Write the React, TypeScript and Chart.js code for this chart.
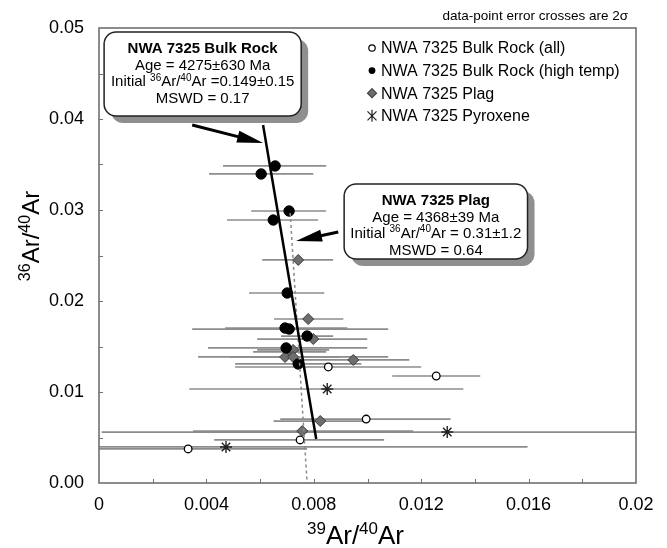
import React, { useEffect, useRef } from 'react';
import { Chart, registerables } from 'chart.js';

Chart.register(...registerables);

const FONT = '"Liberation Sans", Arial, Helvetica, sans-serif';

// ---- axis ticks ----
const xTicks = [0, 0.004, 0.008, 0.012, 0.016, 0.02];
const yTicks = [0, 0.01, 0.02, 0.03, 0.04, 0.05];
const xMinorStep = 0.002;
const yMinorStep = 0.005;

// ---- NWA 7325 Bulk Rock (all) : open circles ----
const allX = [0.00854, 0.01256, 0.00995, 0.00749, 0.00332];
const allY = [0.01275, 0.01176, 0.00703, 0.00473, 0.00374];
const allLo = [0.00507, 0.01092, 0.00675, 0.00429, -0.00112];
const allHi = [0.012, 0.0142, 0.01309, 0.01062, 0.00775];

// ---- NWA 7325 Bulk Rock (high temp) : filled circles ----
const htX = [0.00656, 0.00604, 0.00708, 0.00649, 0.00701, 0.00693, 0.00708, 0.00775, 0.00697, 0.00742];
const htY = [0.03484, 0.03396, 0.02989, 0.0289, 0.02088, 0.01703, 0.01692, 0.01615, 0.01484, 0.01308];
const htLo = [0.00462, 0.0041, 0.00567, 0.00477, 0.00559, 0.0047, 0.00347, 0.00678, 0.00406, 0.00507];
const htHi = [0.00846, 0.00798, 0.00846, 0.00816, 0.00839, 0.00925, 0.01077, 0.00872, 0.00999, 0.00977];

// ---- NWA 7325 Plag : grey diamonds ----
const plX = [0.00742, 0.00779, 0.00798, 0.00712, 0.00723, 0.00693, 0.00723, 0.00947, 0.00824, 0.00757];
const plY = [0.02451, 0.01802, 0.01582, 0.0144, 0.01462, 0.01385, 0.01385, 0.01352, 0.00681, 0.00571];
const plLo = [0.00608, 0.00652, 0.00589, 0.00574, 0.00589, 0.00488, 0.00369, 0.00738, 0.0065, 0.0035];
const plHi = [0.00872, 0.0091, 0.00999, 0.00846, 0.00857, 0.00898, 0.01077, 0.01156, 0.01, 0.0117];

// ---- NWA 7325 Pyroxene : asterisks ----
const pxX = [0.0085, 0.01297, 0.00473];
const pxY = [0.01033, 0.0056, 0.00396];
const pxLo = [0.00336, 0.0001, -0.0028];
const pxHi = [0.01357, 0.0258, 0.01596];

// ---- isochron fits ----
const bulkLineX = [0.00611, 0.00809];
const bulkLineY = [0.03934, 0.00484];
const plagLineX = [0.00712, 0.00775];
const plagLineY = [0.02967, 0.0];

// ---- texts ----
const legendLabels = [
  'NWA 7325 Bulk Rock (all)',
  'NWA 7325 Bulk Rock (high temp)',
  'NWA 7325 Plag',
  'NWA 7325 Pyroxene',
];
const noteText = 'data-point error crosses are 2σ';

type Part = [string, boolean];
const bulkBoxLines: { bold: boolean; parts: Part[] }[] = [
  { bold: true, parts: [['NWA 7325 Bulk Rock', false]] },
  { bold: false, parts: [['Age = 4275±630 Ma', false]] },
  { bold: false, parts: [['Initial ', false], ['36', true], ['Ar/', false], ['40', true], ['Ar =0.149±0.15', false]] },
  { bold: false, parts: [['MSWD = 0.17', false]] },
];
const plagBoxLines: { bold: boolean; parts: Part[] }[] = [
  { bold: true, parts: [['NWA 7325 Plag', false]] },
  { bold: false, parts: [['Age = 4368±39 Ma', false]] },
  { bold: false, parts: [['Initial ', false], ['36', true], ['Ar/', false], ['40', true], ['Ar = 0.31±1.2', false]] },
  { bold: false, parts: [['MSWD = 0.64', false]] },
];
const xTitle: Part[] = [['39', true], ['Ar/', false], ['40', true], ['Ar', false]];
const yTitle: Part[] = [['36', true], ['Ar/', false], ['40', true], ['Ar', false]];

// annotation placement (data coordinates of box corners / arrow ends)
const bulkBox = { x0: 0.00019, x1: 0.00753, y0: 0.04956, y1: 0.04033 };
const plagBox = { x0: 0.00913, x1: 0.01596, y0: 0.03286, y1: 0.02462 };
const bulkArrow = { x0: 0.00347, y0: 0.03934, x1: 0.00611, y1: 0.03736 };
const plagArrow = { x0: 0.00891, y0: 0.02758, x1: 0.00734, y1: 0.02659 };

const pts = (xs: number[], ys: number[]) => xs.map((x, i) => ({ x, y: ys[i] }));

function drawRich(ctx: CanvasRenderingContext2D, parts: Part[], x: number, y: number, align: string, size: number, bold = false, supRatio = 0.64) {
  const w8 = bold ? 'bold' : 'normal';
  const sup = Math.round(size * supRatio);
  const widths = parts.map(([t, s]) => {
    ctx.font = `${w8} ${s ? sup : size}px ${FONT}`;
    return ctx.measureText(t).width;
  });
  const total = widths.reduce((a, b) => a + b, 0);
  let cx = align === 'center' ? x - total / 2 : align === 'right' ? x - total : x;
  ctx.textAlign = 'left';
  ctx.textBaseline = 'alphabetic';
  parts.forEach(([t, s], i) => {
    ctx.font = `${w8} ${s ? sup : size}px ${FONT}`;
    ctx.fillText(t, cx, s ? y - size * 0.38 : y);
    cx += widths[i];
  });
}

function roundRect(ctx: CanvasRenderingContext2D, x: number, y: number, w: number, h: number, r: number) {
  ctx.beginPath();
  ctx.moveTo(x + r, y);
  ctx.lineTo(x + w - r, y);
  ctx.arcTo(x + w, y, x + w, y + r, r);
  ctx.lineTo(x + w, y + h - r);
  ctx.arcTo(x + w, y + h, x + w - r, y + h, r);
  ctx.lineTo(x + r, y + h);
  ctx.arcTo(x, y + h, x, y + h - r, r);
  ctx.lineTo(x, y + r);
  ctx.arcTo(x, y, x + r, y, r);
  ctx.closePath();
}

function drawArrow(ctx: CanvasRenderingContext2D, x1: number, y1: number, x2: number, y2: number) {
  const a = Math.atan2(y2 - y1, x2 - x1);
  const hl = 26, hw = 6;
  const bx = x2 - hl * Math.cos(a), by = y2 - hl * Math.sin(a);
  ctx.strokeStyle = '#000';
  ctx.fillStyle = '#000';
  ctx.lineWidth = 3;
  ctx.beginPath();
  ctx.moveTo(x1, y1);
  ctx.lineTo(bx + 2 * Math.cos(a), by + 2 * Math.sin(a));
  ctx.stroke();
  ctx.beginPath();
  ctx.moveTo(x2, y2);
  ctx.lineTo(bx - hw * Math.sin(a), by + hw * Math.cos(a));
  ctx.lineTo(bx + hw * Math.sin(a), by - hw * Math.cos(a));
  ctx.closePath();
  ctx.fill();
}

function drawBox(chart: any, box: any, lines: { bold: boolean; parts: Part[] }[]) {
  const { ctx } = chart;
  const sx = chart.scales.x, sy = chart.scales.y;
  const x0 = sx.getPixelForValue(box.x0), x1 = sx.getPixelForValue(box.x1);
  const y0 = sy.getPixelForValue(box.y0), y1 = sy.getPixelForValue(box.y1);
  const w = x1 - x0, h = y1 - y0;
  ctx.save();
  ctx.fillStyle = '#8f8f8f';
  roundRect(ctx, x0 + 7, y0 + 7, w, h, 12);
  ctx.fill();
  ctx.fillStyle = '#fff';
  ctx.strokeStyle = '#222';
  ctx.lineWidth = 1.5;
  roundRect(ctx, x0, y0, w, h, 12);
  ctx.fill();
  ctx.stroke();
  ctx.fillStyle = '#000';
  const cx = (x0 + x1) / 2;
  const step = 16.6;
  const startBase = y0 + 21;
  lines.forEach((ln, i) => drawRich(ctx, ln.parts, cx, startBase + i * step, 'center', 15, ln.bold));
  ctx.restore();
}

function legendMarker(ctx: CanvasRenderingContext2D, kind: number, x: number, y: number) {
  ctx.save();
  ctx.lineWidth = 1.2;
  ctx.strokeStyle = '#000';
  if (kind === 0) {
    ctx.fillStyle = '#fff';
    ctx.beginPath(); ctx.arc(x, y, 3.2, 0, Math.PI * 2); ctx.fill(); ctx.stroke();
  } else if (kind === 1) {
    ctx.fillStyle = '#000';
    ctx.beginPath(); ctx.arc(x, y, 3.4, 0, Math.PI * 2); ctx.fill();
  } else if (kind === 2) {
    ctx.fillStyle = '#6e6e6e';
    ctx.strokeStyle = '#444';
    ctx.beginPath(); ctx.moveTo(x, y - 4.5); ctx.lineTo(x + 4.5, y); ctx.lineTo(x, y + 4.5); ctx.lineTo(x - 4.5, y); ctx.closePath(); ctx.fill(); ctx.stroke();
  } else {
    ctx.strokeStyle = '#222';
    ctx.beginPath();
    ctx.moveTo(x, y - 6); ctx.lineTo(x, y + 6);
    ctx.moveTo(x - 4.5, y - 4.5); ctx.lineTo(x + 4.5, y + 4.5);
    ctx.moveTo(x - 4.5, y + 4.5); ctx.lineTo(x + 4.5, y - 4.5);
    ctx.stroke();
  }
  ctx.restore();
}

const decorPlugin = {
  id: 'decor',
  beforeDatasetsDraw(chart: any) {
    const { ctx, chartArea: ca } = chart;
    const sx = chart.scales.x, sy = chart.scales.y;
    ctx.save();
    ctx.beginPath();
    ctx.rect(ca.left, ca.top, ca.right - ca.left, ca.bottom - ca.top);
    ctx.clip();
    ctx.strokeStyle = '#8c8c8c';
    ctx.lineWidth = 1.7;
    const groups: [number[], number[], number[]][] = [
      [allY, allLo, allHi],
      [htY, htLo, htHi],
      [plY, plLo, plHi],
      [pxY, pxLo, pxHi],
    ];
    groups.forEach(([ys, lo, hi]) => {
      ys.forEach((yv, i) => {
        const py = sy.getPixelForValue(yv);
        ctx.beginPath();
        ctx.moveTo(sx.getPixelForValue(lo[i]), py);
        ctx.lineTo(sx.getPixelForValue(hi[i]), py);
        ctx.stroke();
      });
    });
    ctx.restore();
  },
  afterDraw(chart: any) {
    const { ctx, chartArea: ca } = chart;
    const sx = chart.scales.x, sy = chart.scales.y;
    ctx.save();
    // frame
    ctx.strokeStyle = '#707070';
    ctx.lineWidth = 1.6;
    ctx.strokeRect(ca.left, ca.top, ca.right - ca.left, ca.bottom - ca.top);
    // inward minor/major ticks
    ctx.lineWidth = 1;
    ctx.beginPath();
    for (let v = xMinorStep; v < 0.02 - 1e-9; v += xMinorStep) {
      const px = Math.round(sx.getPixelForValue(v)) + 0.5;
      ctx.moveTo(px, ca.bottom);
      ctx.lineTo(px, ca.bottom - 4);
    }
    for (let v = yMinorStep; v < 0.05 - 1e-9; v += yMinorStep) {
      const py = Math.round(sy.getPixelForValue(v)) + 0.5;
      ctx.moveTo(ca.left, py);
      ctx.lineTo(ca.left + 4, py);
    }
    ctx.stroke();

    // axis titles
    ctx.fillStyle = '#000';
    drawRich(ctx, xTitle, (ca.left + ca.right) / 2 - 12, 544, 'center', 26, false, 0.66);
    ctx.save();
    ctx.translate(39, 236);
    ctx.rotate(-Math.PI / 2);
    drawRich(ctx, yTitle, 0, 0, 'center', 24, false, 0.66);
    ctx.restore();

    // note
    ctx.font = `13.5px ${FONT}`;
    ctx.textAlign = 'right';
    ctx.textBaseline = 'alphabetic';
    ctx.fillText(noteText, ca.right - 8, 20);

    // legend
    legendLabels.forEach((lab, i) => {
      const y = ca.top + 20 + i * 22.6;
      legendMarker(ctx, i, ca.left + 273, y);
      ctx.fillStyle = '#000';
      ctx.font = `16px ${FONT}`;
      ctx.textAlign = 'left';
      ctx.textBaseline = 'middle';
      ctx.fillText(lab, ca.left + 282, y + 1);
    });

    // arrows
    drawArrow(ctx, sx.getPixelForValue(bulkArrow.x0), sy.getPixelForValue(bulkArrow.y0), sx.getPixelForValue(bulkArrow.x1), sy.getPixelForValue(bulkArrow.y1));
    drawArrow(ctx, sx.getPixelForValue(plagArrow.x0), sy.getPixelForValue(plagArrow.y0), sx.getPixelForValue(plagArrow.x1), sy.getPixelForValue(plagArrow.y1));

    // callout boxes
    drawBox(chart, bulkBox, bulkBoxLines);
    drawBox(chart, plagBox, plagBoxLines);
    ctx.restore();
  },
};

export default function App() {
  const ref = useRef<HTMLCanvasElement>(null);
  useEffect(() => {
    const canvas = ref.current as HTMLCanvasElement;
    const chart = new Chart(canvas, {
      type: 'scatter',
      data: {
        datasets: [
          {
            type: 'line',
            label: 'Bulk Rock isochron',
            data: pts(bulkLineX, bulkLineY),
            borderColor: '#000',
            borderWidth: 2.5,
            pointRadius: 0,
            fill: false,
          } as any,
          {
            type: 'line',
            label: 'Plag isochron',
            data: pts(plagLineX, plagLineY),
            borderColor: '#8a8a8a',
            borderWidth: 1.5,
            borderDash: [3, 3],
            pointRadius: 0,
            fill: false,
          } as any,
          {
            label: legendLabels[1],
            data: pts(htX, htY),
            pointStyle: 'circle',
            pointRadius: 5.2,
            backgroundColor: '#000',
            borderColor: '#000',
            borderWidth: 1,
          },
          {
            label: legendLabels[2],
            data: pts(plX, plY),
            pointStyle: 'rectRot',
            pointRadius: 5.5,
            backgroundColor: '#6e6e6e',
            borderColor: '#3a3a3a',
            borderWidth: 1,
          },
          {
            label: legendLabels[0],
            data: pts(allX, allY),
            pointStyle: 'circle',
            pointRadius: 3.8,
            backgroundColor: '#fff',
            borderColor: '#000',
            borderWidth: 1.3,
          },
          {
            label: legendLabels[3],
            data: pts(pxX, pxY),
            pointStyle: 'star',
            pointRadius: 6,
            backgroundColor: '#222',
            borderColor: '#222',
            borderWidth: 1.4,
          },
        ],
      },
      options: {
        animation: false,
        responsive: true,
        maintainAspectRatio: false,
        events: [],
        layout: { padding: { top: 28, right: 31, left: 0, bottom: 0 } },
        plugins: { legend: { display: false }, tooltip: { enabled: false } },
        scales: {
          x: {
            type: 'linear',
            min: 0,
            max: 0.02,
            afterFit: (s: any) => { s.height = 65; },
            afterBuildTicks: (s: any) => { s.ticks = xTicks.map((v) => ({ value: v })); },
            grid: { display: false, drawTicks: false },
            border: { display: false },
            ticks: {
              padding: 11,
              color: '#000',
              font: { family: FONT, size: 18 },
              callback: (v: any) => (Number(v) === 0 ? '0' : String(parseFloat(Number(v).toFixed(3)))),
            },
          },
          y: {
            type: 'linear',
            min: 0,
            max: 0.05,
            afterFit: (s: any) => { s.width = 99; },
            afterBuildTicks: (s: any) => { s.ticks = yTicks.map((v) => ({ value: v })); },
            grid: { display: false, drawTicks: false },
            border: { display: false },
            ticks: {
              padding: 15,
              color: '#000',
              font: { family: FONT, size: 18 },
              callback: (v: any) => Number(v).toFixed(2),
            },
          },
        },
      },
      plugins: [decorPlugin],
    });
    return () => chart.destroy();
  }, []);
  return (
    <div style={{ position: 'fixed', left: 0, top: 0, width: 667, height: 548, background: '#fff' }}>
      <canvas ref={ref} />
    </div>
  );
}
